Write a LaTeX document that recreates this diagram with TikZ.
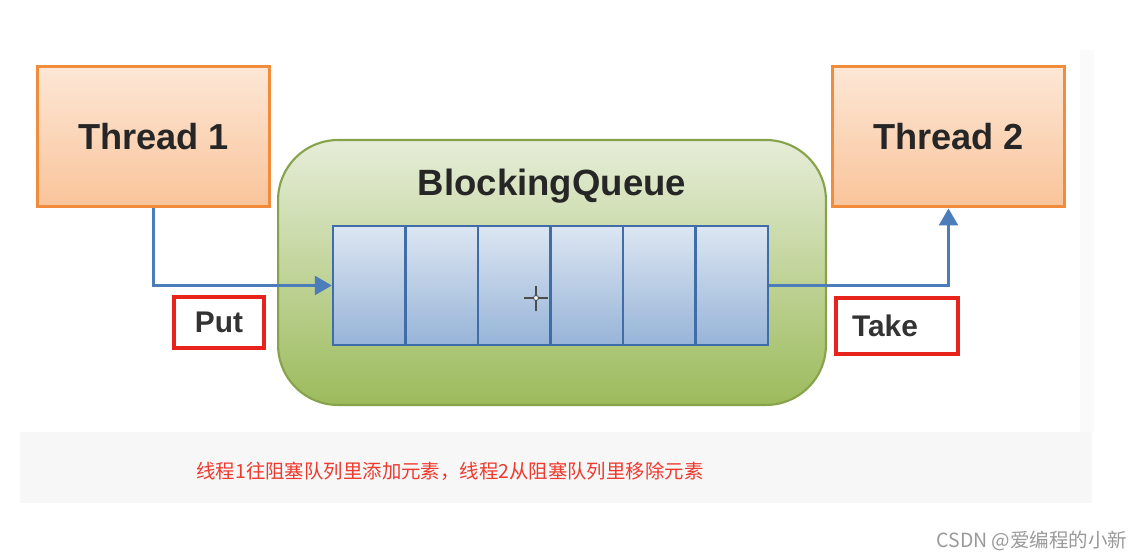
\documentclass[tikz,border=0pt]{standalone}
\usepackage{fontspec}
\setmainfont{Liberation Sans}
\newfontfamily\cjk{Noto Sans CJK SC}
\usetikzlibrary{arrows.meta,shadings}
\definecolor{orangeB}{HTML}{F08C3C}
\definecolor{orangeT}{HTML}{FDE7D6}
\definecolor{orangeBt}{HTML}{F9C49A}
\definecolor{greenB}{HTML}{86A24A}
\definecolor{greenT}{HTML}{E6EDD8}
\definecolor{greenBt}{HTML}{9CBB5C}
\definecolor{blueB}{HTML}{3F6DA8}
\definecolor{blueT}{HTML}{DCE6F2}
\definecolor{blueBt}{HTML}{97B4D8}
\definecolor{arrowC}{HTML}{4A7DBA}
\definecolor{redB}{HTML}{E8231B}
\definecolor{redT}{HTML}{EE3A2E}
\definecolor{bandC}{HTML}{F7F7F7}
\definecolor{wmC}{HTML}{9A9A9A}
\tikzset{
  threadbox/.style={draw=orangeB, line width=1.7pt, top color=orangeT, bottom color=orangeBt,
    minimum width=4.66cm, minimum height=2.82cm, inner sep=0pt, font=\fontsize{20.6}{24}\selectfont\bfseries, text=black!85},
  qbox/.style={draw=greenB, line width=1.2pt, rounded corners=1.2cm, top color=greenT, bottom color=greenBt,
    minimum width=10.96cm, minimum height=5.3cm, inner sep=0pt},
  cell/.style={draw=blueB, line width=1.4pt, top color=blueT, bottom color=blueBt,
    minimum width=1.45cm, minimum height=2.38cm, inner sep=0pt},
  flow/.style={draw=arrowC, line width=1.5pt, -{Triangle[length=0.34cm,width=0.38cm]}},
  labelbox/.style={draw=redB, line width=2.3pt, fill=white, inner sep=0pt,
    font=\fontsize{17}{20}\selectfont\bfseries, text=black!80},
}
\begin{document}
\begin{tikzpicture}[x=0.02cm,y=-0.02cm]
\useasboundingbox[fill=white] (0,0) rectangle (1144,560);
\fill[bandC] (20,432) rectangle (1092,503);
\fill[bandC!60!white] (1080,50) rectangle (1094,432);
\node[threadbox] (t1) at (153.5,136.5) {Thread 1};
\node[threadbox] (t2) at (948.5,136.5) {Thread 2};
\node[qbox] (bq) at (552,272.5) {};
\node[font=\fontsize{20.8}{24}\selectfont\bfseries, text=black!85] (bqt) at (552,186) {BlockingQueue};
\foreach \i/\x in {1/369.25,2/441.75,3/514.25,4/586.75,5/659.25,6/731.75}{
  \node[cell] (q\i) at (\x,285.5) {};
}
\draw[flow] (t1.south) |- (q1.west);
\draw[flow] (q6.east) -| (t2.south);
\node[labelbox, minimum width=1.8cm, minimum height=1.02cm] (put) at (219,322.5) {Put};
\node[labelbox, minimum height=1.12cm, text width=1.8cm, align=left, inner xsep=0.32cm] (take) at (897,326) {Take};
\draw[black!70, line width=0.6pt] (536,286) -- (536,311) (524,298) -- (548,298);
\draw[black!70, line width=0.5pt, fill=white] (536,298) circle (2.5);
\node[font=\cjk\fontsize{11.05}{13}\selectfont, text=redT] (cap) at (450,471) {线程1往阻塞队列里添加元素，线程2从阻塞队列里移除元素};
\node[font=\cjk\fontsize{11.1}{13}\selectfont, text=wmC] (wm) at (1032,541) {CSDN @爱编程的小新};
\end{tikzpicture}
\end{document}
